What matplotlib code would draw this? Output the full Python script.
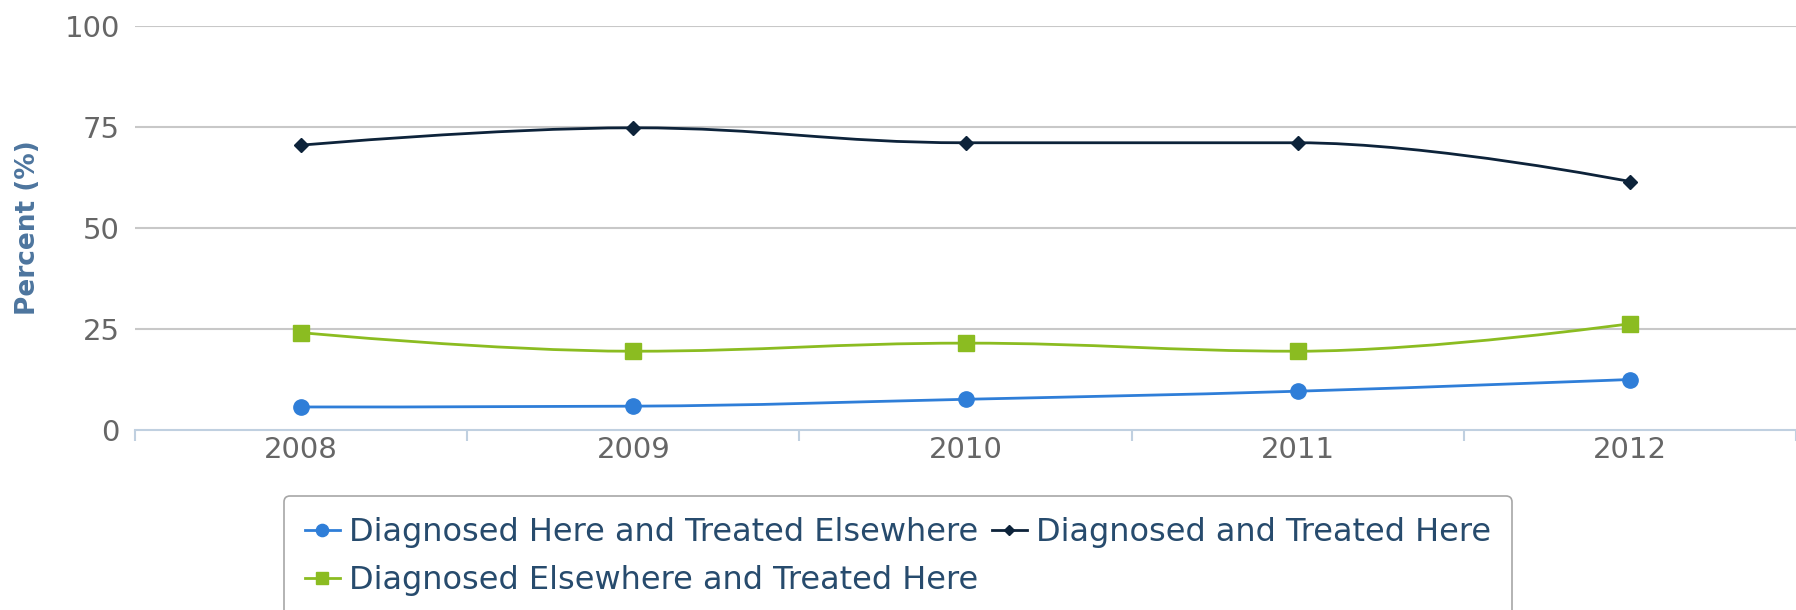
import numpy as np
import matplotlib
matplotlib.use("Agg")
import matplotlib.pyplot as plt
from matplotlib.path import Path
from matplotlib.patches import PathPatch
from matplotlib.lines import Line2D

years = [2008, 2009, 2010, 2011, 2012]
here_elsewhere = [5.7, 5.9, 7.6, 9.6, 12.5]
diag_treated_here = [70.5, 74.8, 71.1, 71.1, 61.5]
elsewhere_here = [24.1, 19.5, 21.5, 19.5, 26.3]
y_ticks = [0, 25, 50, 75, 100]

series = [
    ("Diagnosed Here and Treated Elsewhere", here_elsewhere, "#2f7ed8", "o", 11),
    ("Diagnosed and Treated Here", diag_treated_here, "#0d233a", "D", 7),
    ("Diagnosed Elsewhere and Treated Here", elsewhere_here, "#8bbc21", "s", 11),
]


def spline_path(xs, ys, smoothing=1.5):
    # highcharts-like spline: bezier control points around each point
    n = len(xs)
    left = [None] * n
    right = [None] * n
    for i in range(1, n - 1):
        d = smoothing + 1
        lx = (smoothing * xs[i] + xs[i - 1]) / d
        ly = (smoothing * ys[i] + ys[i - 1]) / d
        rx = (smoothing * xs[i] + xs[i + 1]) / d
        ry = (smoothing * ys[i] + ys[i + 1]) / d
        if rx != lx:
            corr = (ry - ly) * (rx - xs[i]) / (rx - lx) + ys[i] - ry
            ly += corr
            ry += corr
        if ly > ys[i - 1] and ly > ys[i]:
            ly = max(ys[i - 1], ys[i]); ry = 2 * ys[i] - ly
        elif ly < ys[i - 1] and ly < ys[i]:
            ly = min(ys[i - 1], ys[i]); ry = 2 * ys[i] - ly
        if ry > ys[i + 1] and ry > ys[i]:
            ry = max(ys[i + 1], ys[i]); ly = 2 * ys[i] - ry
        elif ry < ys[i + 1] and ry < ys[i]:
            ry = min(ys[i + 1], ys[i]); ly = 2 * ys[i] - ry
        left[i] = (lx, ly)
        right[i] = (rx, ry)
    verts = [(xs[0], ys[0])]
    codes = [Path.MOVETO]
    for i in range(1, n):
        c1 = right[i - 1] or (xs[i - 1], ys[i - 1])
        c2 = left[i] or (xs[i], ys[i])
        verts += [c1, c2, (xs[i], ys[i])]
        codes += [Path.CURVE4] * 3
    return Path(verts, codes)


fig = plt.figure(figsize=(17.96, 6.10), dpi=100)
ax = fig.add_axes([135 / 1796, 1 - 430 / 610, 1 - 135 / 1796, 404 / 610])

handles = []
for name, vals, col, mk, ms in series:
    p = spline_path(years, vals)
    ax.add_patch(PathPatch(p, facecolor="none", edgecolor=col, lw=2, zorder=3))
    ax.plot(years, vals, linestyle="none", marker=mk, color=col, markersize=ms, zorder=4)
    handles.append(Line2D([0], [0], color=col, lw=2, marker=mk, markersize=ms * 0.8))

ax.set_xlim(2007.5, 2012.5)
ax.set_ylim(0, 100)
ax.set_yticks(y_ticks)
ax.set_xticks(years)
ax.set_xticks(np.arange(2007.5, 2012.6, 1), minor=True)
for t in y_ticks[1:]:
    ax.axhline(t, color="#c8c8c8", lw=1.5, zorder=1)
for s in ["top", "right", "left"]:
    ax.spines[s].set_visible(False)
ax.spines["bottom"].set_color("#c0d0e0")
ax.spines["bottom"].set_linewidth(1.5)
ax.tick_params(axis="y", length=0, labelsize=21, labelcolor="#666666", pad=11)
ax.tick_params(axis="x", which="major", length=0, labelsize=21, labelcolor="#666666", pad=4)
ax.tick_params(axis="x", which="minor", length=8, width=1.5, color="#c0d0e0")
ax.set_ylabel("Percent (%)", fontsize=19, fontweight="bold", color="#4d759e")
ax.yaxis.set_label_coords(-94 / 1661, 0.5)

order = [0, 2, 1]
leg = fig.legend([handles[i] for i in order], [series[i][0] for i in order],
                 ncol=2, loc="upper left", bbox_to_anchor=(284 / 1796, 1 - 496 / 610),
                 borderaxespad=0, fontsize=23, frameon=True, fancybox=True,
                 handlelength=1.1, handletextpad=0.3, columnspacing=0.4,
                 labelspacing=0.55, borderpad=0.65, labelcolor="#274b6d")
leg.get_frame().set_edgecolor("#909090")
leg.get_frame().set_linewidth(1.2)

fig.savefig("out.png", dpi=100)
